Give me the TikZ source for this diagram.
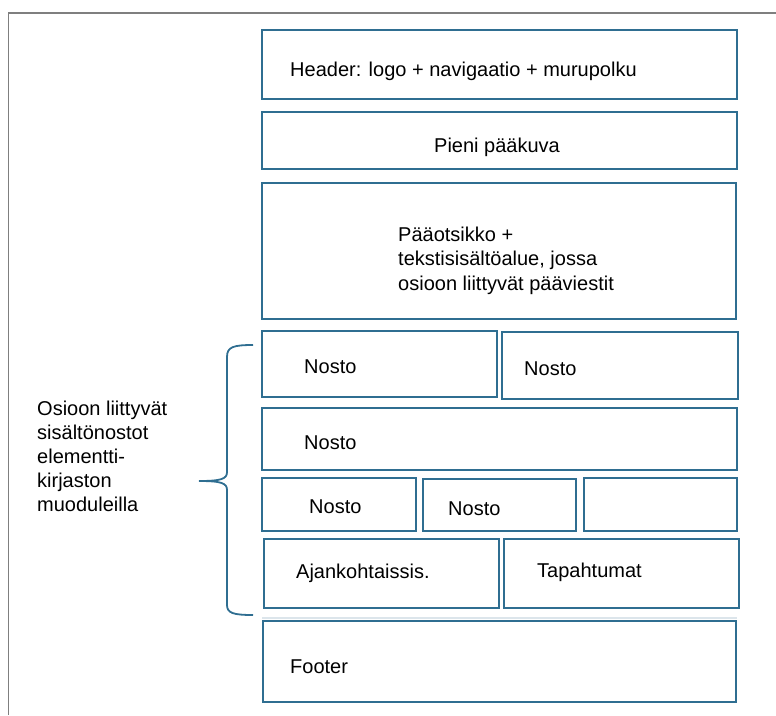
\documentclass[tikz,border=0pt]{standalone}
\usepackage{fontspec}
\setmainfont{Liberation Sans}
\definecolor{boxblue}{HTML}{2F6E91}
\definecolor{framegray}{HTML}{7F7F7F}
\definecolor{faintline}{HTML}{DCE5EB}
\newcommand\boxnode[5]{%
  \node[box, minimum width={(#4-#2)*1pt}, minimum height={(#5-#3)*1pt}]
    (#1) at ({(#2+#4)/2},{(#3+#5)/2}) {};}
\begin{document}
\begin{tikzpicture}[x=1pt,y=-1pt,
  box/.style={draw=boxblue, line width=2pt, inner sep=0pt, outer sep=0pt, rectangle},
  lbl/.style={inner sep=0pt, anchor=base west, font=\fontsize{20}{24}\selectfont, text=black},
  bracestyle/.style={draw=boxblue, line width=1.8pt}]
\useasboundingbox (0,0) rectangle (776,715);
% outer frame
\draw[framegray, line width=1.5pt] (8.5,715) -- (8.5,13) -- (776,13);
% boxes
\boxnode{header}{262}{30}{737}{99}
\boxnode{pieni}{262}{112}{737}{169}
\boxnode{paa}{262}{183}{736}{319}
\boxnode{nostoA}{262}{331}{497}{397}
\boxnode{nostoB}{502}{332}{738}{399}
\boxnode{nostoC}{262}{408}{737}{470}
\boxnode{nostoD}{262}{478}{416}{531}
\boxnode{nostoE}{423}{479}{576}{531}
\boxnode{nostoF}{584}{478}{737}{531}
\boxnode{ajank}{264}{539}{499}{608}
\boxnode{tapaht}{504}{539}{739}{608}
\boxnode{footer}{263}{621}{736}{702}
\draw[faintline, line width=1.2pt] (262,618) -- (737,618);
% texts
\node[lbl] (theader) at (290,76) {Header: logo + navigaatio + murupolku};
\node[lbl] (tpieni) at (434,152) {Pieni pääkuva};
\node[lbl] (tpaa1) at (398,241) {Pääotsikko +};
\node[lbl] (tpaa2) at (398,265.5) {tekstisisältöalue, jossa};
\node[lbl] (tpaa3) at (398,290) {osioon liittyvät pääviestit};
\node[lbl] (tnA) at (304,373) {Nosto};
\node[lbl] (tnB) at (524,375) {Nosto};
\node[lbl] (tnC) at (304,449) {Nosto};
\node[lbl] (tnD) at (309,513) {Nosto};
\node[lbl] (tnE) at (448,515) {Nosto};
\node[lbl] (taj) at (296,578) {Ajankohtaissis.};
\node[lbl] (ttap) at (537,577) {Tapahtumat};
\node[lbl] (tfoot) at (290,673) {Footer};
\node[lbl] (tside1) at (37,415) {Osioon liittyvät};
\node[lbl] (tside2) at (37,439) {sisältönostot};
\node[lbl] (tside3) at (37,463) {elementti-};
\node[lbl] (tside4) at (37,487) {kirjaston};
\node[lbl] (tside5) at (37,511) {muoduleilla};
% brace
\draw[bracestyle] (253,345) .. controls (233,345) and (227,347) .. (227,357)
  -- (227,472) .. controls (227,479) and (221,481) .. (199,481);
\draw[bracestyle] (199,481) .. controls (221,481) and (227,483) .. (227,490)
  -- (227,605) .. controls (227,613) and (233,615) .. (253,615);
\end{tikzpicture}
\end{document}
